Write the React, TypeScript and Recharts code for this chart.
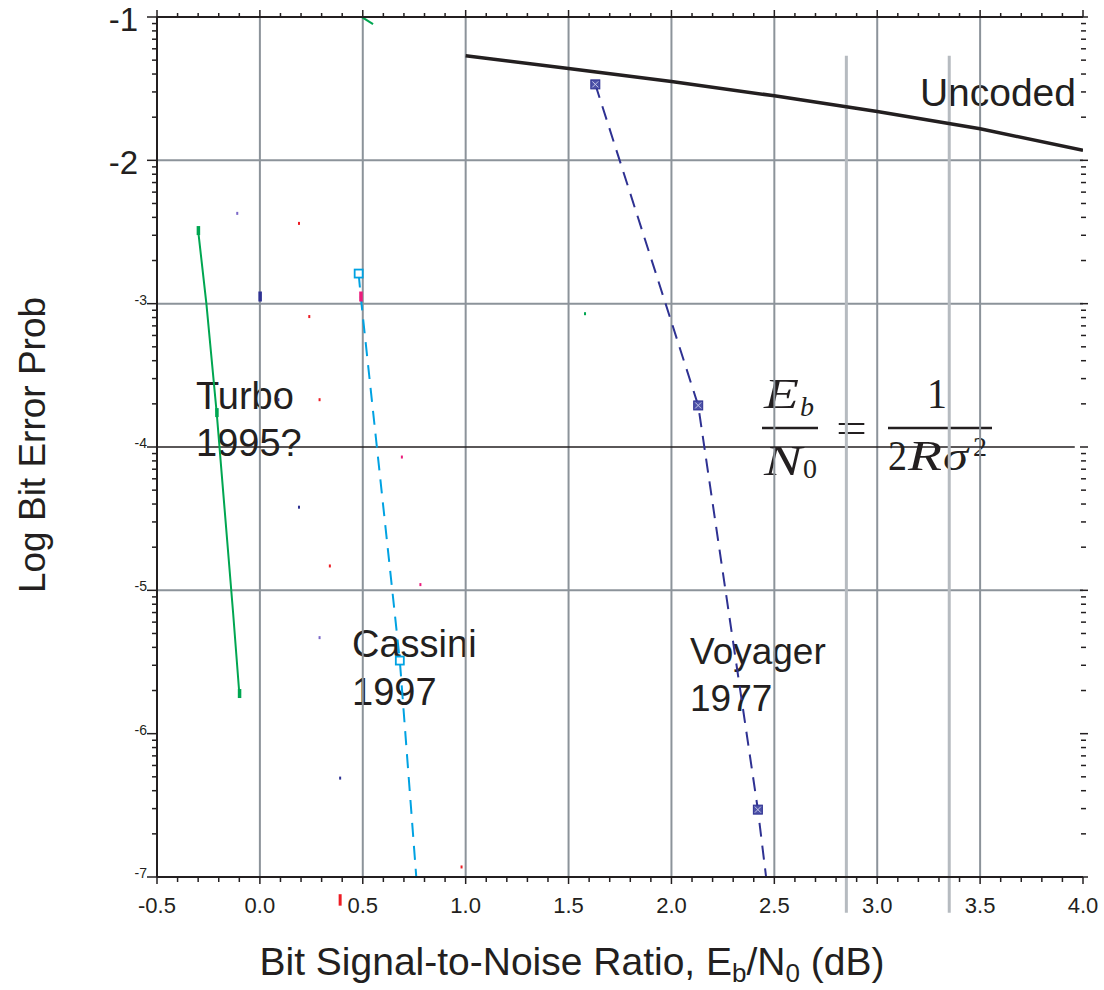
import { ComposedChart, Line, Scatter, XAxis, YAxis, ReferenceLine } from 'recharts';

const SANS = '"Liberation Sans", Arial, Helvetica, sans-serif';
const SERIF = '"Liberation Serif", "Times New Roman", serif';
const INK = '#231f20';
const GRID = '#8c939a';

// x = Eb/N0 in dB, y = log10 of bit error probability
const snrTicks = [-0.5, 0.0, 0.5, 1.0, 1.5, 2.0, 2.5, 3.0, 3.5, 4.0];
const logTicks = [-1, -2, -3, -4, -5, -6, -7];
const gridSnr = [0.0, 0.5, 1.0, 1.5, 2.0, 2.5, 3.0, 3.5];
const gridLog = [-2, -3, -5];

const uncodedSnr = [1.0, 1.5, 2.0, 2.5, 3.0, 3.5, 4.0];
const uncodedLogP = [-1.27, -1.36, -1.45, -1.55, -1.66, -1.78, -1.93];

const voyagerSnr = [1.63, 2.13, 2.42, 2.46];
const voyagerLogP = [-1.47, -3.71, -6.53, -7.0];
const voyagerMarked = [true, true, true, false];

const cassiniSnr = [0.48, 0.49, 0.68, 0.76];
const cassiniLogP = [-2.79, -2.95, -5.49, -7.0];
const cassiniMarked = [true, false, true, false];

const turboSnr = [-0.3, -0.26, -0.21, -0.13, -0.1];
const turboLogP = [-2.49, -3.0, -3.76, -5.16, -5.72];
const turboMarked = [true, false, true, false, true];

// stray green stroke clipped at the top edge
const strokeSnr = [0.49, 0.55];
const strokeLogP = [-0.995, -1.05];

// small bar-shaped blips and tiny specks left in the plot
const blipSnr = [0.0, 0.49];
const blipLogP = [-2.95, -2.95];
const BLIP_TONES = ['#2e3192', '#ec1c7c'];

const speckSnr = [-0.11, 0.19, 0.24, 0.29, 0.09, 0.69, 0.19, 0.34, 0.78, 0.29, 0.39, 0.98, 1.58];
const speckLogP = [-2.37, -2.44, -3.09, -3.67, -3.67, -4.07, -4.42, -4.83, -4.96, -5.33, -6.31, -6.93, -3.07];
const SPECK_TONES = ['#7b68c8', '#ed1c24', '#ed1c24', '#ed1c24', '#2e3192', '#ec1c7c',
  '#2e3192', '#ed1c24', '#ec1c7c', '#7b68c8', '#2e3192', '#ed1c24', '#00a651'];

// light double rules past 3 dB
const ruleSnr = [2.85, 3.35];

const toRows = (xs: number[], ys: number[], marks?: boolean[]) =>
  xs.map((x, i) => ({ x, y: ys[i], m: marks ? marks[i] : false }));

const xMinor: number[] = [];
for (let i = 0; i <= 45; i++) xMinor.push(Math.round((-0.5 + i * 0.1) * 10) / 10);

const yAll: number[] = [];
logTicks.forEach((d) => {
  yAll.push(d);
  if (d > -7) for (let k = 2; k <= 9; k++) yAll.push(d - 1 + Math.log10(k));
});

const isMajorX = (v: number) => snrTicks.some((t) => Math.abs(t - v) < 1e-6);
const isMajorY = (v: number) => Math.abs(v - Math.round(v)) < 1e-6;

function BottomTick({ x, y, payload }: any) {
  const major = isMajorX(payload.value);
  return (
    <g>
      <line x1={x} y1={y} x2={x} y2={y + (major ? 7 : 5)} stroke={INK} strokeWidth={1.5} />
      {major && (
        <text x={x} y={y + 36} textAnchor="middle" fontSize={22} fill={INK} fontFamily={SANS}>
          {payload.value.toFixed(1)}
        </text>
      )}
    </g>
  );
}

function TopTick({ x, y, payload }: any) {
  const major = isMajorX(payload.value);
  return <line x1={x} y1={y} x2={x} y2={y - (major ? 7 : 4)} stroke={INK} strokeWidth={1.5} />;
}

function LeftTick({ x, y, payload }: any) {
  const v = payload.value;
  const major = isMajorY(v);
  const big = v >= -2;
  return (
    <g>
      <line x1={x - (major ? 10 : 5)} y1={y} x2={x} y2={y} stroke={INK} strokeWidth={1.5} />
      {major && (
        <text
          x={big ? x - 19 : x - 10}
          y={big ? y + 14 : y + 1}
          textAnchor="end"
          fontSize={big ? 33 : 14}
          fill={INK}
          fontFamily={SANS}
        >
          {Math.round(v)}
        </text>
      )}
    </g>
  );
}

function RightTick({ x, y, payload }: any) {
  const major = isMajorY(payload.value);
  return <line x1={x - (major ? 3 : 2)} y1={y} x2={x + (major ? 5 : 3)} y2={y} stroke={INK} strokeWidth={1.5} />;
}

const voyagerDot = ({ cx, cy, payload, index }: any) =>
  payload.m ? (
    <g key={`v${index}`}>
      <rect x={cx - 4.5} y={cy - 4.5} width={9} height={9} fill="#4d52a8" stroke="#2e3192" strokeWidth={1} />
      <path d={`M${cx - 3},${cy - 3}L${cx + 3},${cy + 3}M${cx + 3},${cy - 3}L${cx - 3},${cy + 3}`} stroke="#c3c5e6" strokeWidth={1} />
    </g>
  ) : (
    <g key={`v${index}`} />
  );

const cassiniDot = ({ cx, cy, payload, index }: any) =>
  payload.m ? (
    <rect key={`c${index}`} x={cx - 4} y={cy - 4} width={8} height={8} fill="#fff" stroke="#00a2e2" strokeWidth={1.8} />
  ) : (
    <g key={`c${index}`} />
  );

const turboDot = ({ cx, cy, payload, index }: any) =>
  payload.m ? (
    <rect key={`t${index}`} x={cx - 1.5} y={cy - 4.5} width={3.5} height={9} fill="#00a651" />
  ) : (
    <g key={`t${index}`} />
  );

const blipRows = blipSnr.map((x, i) => ({ x, y: blipLogP[i], tone: BLIP_TONES[i] }));
const speckRows = speckSnr.map((x, i) => ({ x, y: speckLogP[i], tone: SPECK_TONES[i] }));

const ids = { xAxisId: 'b', yAxisId: 'l' };

export default function App() {
  return (
    <div style={{ position: 'absolute', left: 0, top: 0, background: '#fff' }}>
      <ComposedChart width={1104} height={990} margin={{ top: 0, right: 0, bottom: 0, left: 0 }}>
        {/* annotations sit under the grid */}
        <text x={1076} y={106} textAnchor="end" fontSize={39} fill={INK} fontFamily={SANS}>Uncoded</text>
        <text x={196} y={409} fontSize={38} fill={INK} fontFamily={SANS}>Turbo</text>
        <text x={196} y={456} fontSize={38} fill={INK} fontFamily={SANS}>1995?</text>
        <text x={352} y={657} fontSize={38} fill={INK} fontFamily={SANS}>Cassini</text>
        <text x={352} y={705} fontSize={38} fill={INK} fontFamily={SANS}>1997</text>
        <text x={690} y={664} fontSize={37} fill={INK} fontFamily={SANS}>Voyager</text>
        <text x={690} y={711} fontSize={37} fill={INK} fontFamily={SANS}>1977</text>

        {/* Eb/N0 = 1/(2R sigma^2) */}
        <g fill={INK} fontFamily={SERIF}>
          <text x={764} y={408} fontSize={42} fontStyle="italic" textLength={35} lengthAdjust="spacingAndGlyphs">E</text>
          <text x={800} y={416} fontSize={28} fontStyle="italic">b</text>
          <line x1={762} y1={428} x2={818} y2={428} stroke={INK} strokeWidth={2.5} />
          <text x={764} y={475} fontSize={42} fontStyle="italic" textLength={38} lengthAdjust="spacingAndGlyphs">N</text>
          <text x={803} y={478} fontSize={28}>0</text>
          <text x={836} y={442} fontSize={42} textLength={31} lengthAdjust="spacingAndGlyphs">=</text>
          <text x={927} y={408} fontSize={42} textLength={20} lengthAdjust="spacingAndGlyphs">1</text>
          <line x1={888} y1={428} x2={992} y2={428} stroke={INK} strokeWidth={2.5} />
          <text x={888} y={470} fontSize={42} textLength={19} lengthAdjust="spacingAndGlyphs">2</text>
          <text x={908} y={470} fontSize={42} fontStyle="italic" textLength={34} lengthAdjust="spacingAndGlyphs">R</text>
          <text x={943} y={470} fontSize={42} fontStyle="italic" textLength={25} lengthAdjust="spacingAndGlyphs">σ</text>
          <text x={973} y={456} fontSize={28}>2</text>
        </g>

        <text x={45} y={445} transform="rotate(-90, 45, 445)" textAnchor="middle" fontSize={37} fill={INK} fontFamily={SANS}>
          Log Bit Error Prob
        </text>
        <text x={572} y={975} textAnchor="middle" fontSize={39} fill={INK} fontFamily={SANS}>
          Bit Signal-to-Noise Ratio, E<tspan fontSize={26} dy={7}>b</tspan>
          <tspan dy={-7}>/N</tspan>
          <tspan fontSize={26} dy={7}>0</tspan>
          <tspan dy={-7}> (dB)</tspan>
        </text>

        <XAxis
          xAxisId="b" type="number" dataKey="x" domain={[-0.5, 4]} allowDataOverflow
          ticks={xMinor} interval={0} height={113} tickSize={0} tickMargin={0} tickLine={false}
          axisLine={{ stroke: INK, strokeWidth: 2 }} tick={(p: any) => <BottomTick {...p} />}
        />
        <XAxis
          xAxisId="t" orientation="top" type="number" dataKey="x" domain={[-0.5, 4]} allowDataOverflow
          ticks={xMinor} interval={0} height={17} tickSize={0} tickMargin={0} tickLine={false}
          axisLine={{ stroke: INK, strokeWidth: 2 }} tick={(p: any) => <TopTick {...p} />}
        />
        <YAxis
          yAxisId="l" type="number" dataKey="y" domain={[-7, -1]} allowDataOverflow
          ticks={yAll} interval={0} width={157} tickSize={0} tickMargin={0} tickLine={false}
          axisLine={{ stroke: INK, strokeWidth: 2 }} tick={(p: any) => <LeftTick {...p} />}
        />
        <YAxis
          yAxisId="r" orientation="right" type="number" dataKey="y" domain={[-7, -1]} allowDataOverflow
          ticks={yAll} interval={0} width={21} tickSize={0} tickMargin={0} tickLine={false}
          axisLine={false} tick={(p: any) => <RightTick {...p} />}
        />

        {gridSnr.map((v) => (
          <ReferenceLine key={`gx${v}`} {...ids} x={v} stroke={GRID} strokeWidth={2} />
        ))}
        {gridLog.map((v) => (
          <ReferenceLine key={`gy${v}`} {...ids} y={v} stroke={GRID} strokeWidth={2} />
        ))}
        <ReferenceLine {...ids} segment={[{ x: -0.5, y: -4 }, { x: 3.96, y: -4 }]} stroke={INK} strokeWidth={1.5} />
        {ruleSnr.map((v) => (
          <ReferenceLine
            key={`r${v}`} {...ids} ifOverflow="visible"
            segment={[{ x: v, y: -1.27 }, { x: v, y: -7.25 }]}
            stroke="#b6bbc0" strokeWidth={3}
          />
        ))}
        <ReferenceLine {...ids} ifOverflow="visible" segment={[{ x: 0.39, y: -7.12 }, { x: 0.39, y: -7.2 }]} stroke="#ed1c24" strokeWidth={3} />

        <Scatter {...ids} data={speckRows} isAnimationActive={false}
          shape={(p: any) => <rect x={p.cx - 1} y={p.cy - 1.5} width={2} height={3} fill={p.payload.tone} />} />
        <Scatter {...ids} data={blipRows} isAnimationActive={false}
          shape={(p: any) => <rect x={p.cx - 1.5} y={p.cy - 5} width={3.5} height={10} fill={p.payload.tone} />} />

        <Line {...ids} data={toRows(strokeSnr, strokeLogP)} dataKey="y" type="linear" stroke="#00a651" strokeWidth={2} dot={false} activeDot={false} isAnimationActive={false} />
        <Line {...ids} data={toRows(turboSnr, turboLogP, turboMarked)} dataKey="y" type="linear" stroke="#00a651" strokeWidth={2} dot={turboDot} activeDot={false} isAnimationActive={false} />
        <Line {...ids} data={toRows(cassiniSnr, cassiniLogP, cassiniMarked)} dataKey="y" type="linear" stroke="#00a2e2" strokeWidth={2} strokeDasharray="14 9" dot={cassiniDot} activeDot={false} isAnimationActive={false} />
        <Line {...ids} data={toRows(voyagerSnr, voyagerLogP, voyagerMarked)} dataKey="y" type="linear" stroke="#2e3192" strokeWidth={2} strokeDasharray="14 9" dot={voyagerDot} activeDot={false} isAnimationActive={false} />
        <Line {...ids} data={toRows(uncodedSnr, uncodedLogP)} dataKey="y" type="linear" stroke={INK} strokeWidth={3.5} dot={false} activeDot={false} isAnimationActive={false} />
      </ComposedChart>
    </div>
  );
}
